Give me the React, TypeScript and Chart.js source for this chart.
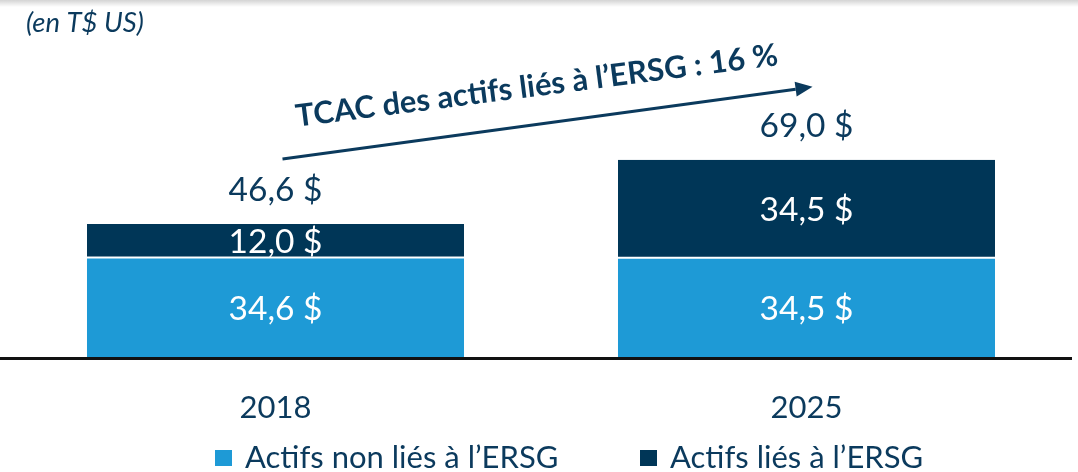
import React, { useEffect, useRef } from 'react';
import { Chart, registerables } from 'chart.js';

Chart.register(...registerables);

// ---- Data ----
const categories = ['2018', '2025'];
const nonEsgAssets = [34.6, 34.5];
const esgAssets = [12.0, 34.5];
const totals = [46.6, 69.0];
const seriesNames = ['Actifs non liés à l’ERSG', 'Actifs liés à l’ERSG'];
const unitNote = '(en T$ US)';
const cagrText = 'TCAC des actifs liés à l’ERSG : 16 %';

// ---- Styles ----
const LIGHT = '#1E9AD6';
const DARK = '#003657';
const TEXT = '#0B3A5D';
const FONT = 'Lato, "Open Sans", sans-serif';

const fmt = (v: number) => v.toFixed(1).replace('.', ',') + ' $';

const overlayPlugin = {
  id: 'overlay',
  beforeDraw(chart: any) {
    const { ctx, width, height } = chart;
    ctx.save();
    ctx.fillStyle = '#ffffff';
    ctx.fillRect(0, 0, width, height);
    const g = ctx.createLinearGradient(0, 0, 0, 7);
    g.addColorStop(0, 'rgba(0,0,0,0.17)');
    g.addColorStop(1, 'rgba(0,0,0,0)');
    ctx.fillStyle = g;
    ctx.fillRect(0, 0, width, 7);
    ctx.restore();
  },
  afterDatasetsDraw(chart: any) {
    const { ctx, chartArea } = chart;
    const xScale = chart.scales.x;
    ctx.save();

    // baseline
    ctx.fillStyle = '#111111';
    ctx.fillRect(0, chartArea.bottom - 0.5, chartArea.right, 3);

    // category labels
    ctx.textAlign = 'center';
    ctx.textBaseline = 'middle';
    ctx.font = `31px ${FONT}`;
    ctx.fillStyle = TEXT;
    chart.data.labels.forEach((lab: string, i: number) => {
      ctx.fillText(lab, xScale.getPixelForValue(i), chartArea.bottom + 50);
    });

    // segment labels
    ctx.font = `33.5px ${FONT}`;
    ctx.fillStyle = '#ffffff';
    chart.data.datasets.forEach((ds: any, di: number) => {
      const meta = chart.getDatasetMeta(di);
      meta.data.forEach((el: any, i: number) => {
        const p = el.getProps(['x', 'y', 'base'], true);
        ctx.fillText(fmt(ds.data[i]), p.x, (p.y + p.base) / 2 + 1);
      });
    });

    // totals
    const topMeta = chart.getDatasetMeta(chart.data.datasets.length - 1);
    ctx.fillStyle = TEXT;
    topMeta.data.forEach((el: any, i: number) => {
      const p = el.getProps(['x', 'y'], true);
      ctx.fillText(fmt(totals[i]), p.x, p.y - 34);
    });

    // CAGR arrow
    const a = topMeta.data[0].getProps(['x', 'y'], true);
    const b = topMeta.data[1].getProps(['x', 'y'], true);
    const x1 = a.x + 7, y1 = a.y - 65;
    const x2 = b.x + 6, y2 = b.y - 73;
    const ang = Math.atan2(y2 - y1, x2 - x1);
    const headLen = 17, headHalf = 7.5;
    ctx.strokeStyle = TEXT;
    ctx.lineWidth = 3;
    ctx.beginPath();
    ctx.moveTo(x1, y1);
    ctx.lineTo(x2 - headLen * Math.cos(ang), y2 - headLen * Math.sin(ang));
    ctx.stroke();
    ctx.fillStyle = TEXT;
    ctx.beginPath();
    ctx.moveTo(x2, y2);
    const bx = x2 - headLen * Math.cos(ang), by = y2 - headLen * Math.sin(ang);
    ctx.lineTo(bx + headHalf * Math.sin(ang), by - headHalf * Math.cos(ang));
    ctx.lineTo(bx - headHalf * Math.sin(ang), by + headHalf * Math.cos(ang));
    ctx.closePath();
    ctx.fill();

    // CAGR text
    const mx = (x1 + x2) / 2 - 9.5, my = (y1 + y2) / 2 - 27;
    ctx.save();
    ctx.translate(mx, my);
    ctx.rotate(-7.3 * Math.PI / 180);
    ctx.font = `bold 31px ${FONT}`;
    ctx.textBaseline = 'alphabetic';
    ctx.textAlign = 'center';
    ctx.fillText(cagrText, 0, 0);
    ctx.restore();

    // unit note
    ctx.font = `italic 27.5px ${FONT}`;
    ctx.textAlign = 'left';
    ctx.textBaseline = 'middle';
    ctx.fillText(unitNote, 26, 23);

    // legend
    const legendX = [215, 640];
    ctx.font = `31px ${FONT}`;
    chart.data.datasets.forEach((ds: any, di: number) => {
      const lx = legendX[di];
      ctx.fillStyle = ds.backgroundColor;
      ctx.fillRect(lx, 450, 17, 16);
      ctx.fillStyle = TEXT;
      ctx.textAlign = 'left';
      ctx.textBaseline = 'middle';
      ctx.fillText(ds.label, lx + 30, 458);
    });

    ctx.restore();
  },
};

export default function App() {
  const ref = useRef<HTMLCanvasElement | null>(null);

  useEffect(() => {
    document.body.style.margin = '0';
    if (!ref.current) return;
    const chart = new Chart(ref.current, {
      type: 'bar',
      data: {
        labels: categories,
        datasets: [
          {
            label: seriesNames[0],
            data: nonEsgAssets,
            backgroundColor: LIGHT,
            borderWidth: 0,
          },
          {
            label: seriesNames[1],
            data: esgAssets,
            backgroundColor: DARK,
            borderColor: '#ffffff',
            borderWidth: { top: 0, left: 0, right: 0, bottom: 2 },
            borderSkipped: false,
          },
        ],
      },
      options: {
        responsive: false,
        animation: false,
        layout: { padding: { top: 157, left: 10, right: 6, bottom: 114.5 } },
        plugins: {
          legend: { display: false },
          tooltip: { enabled: false },
        },
        datasets: { bar: { categoryPercentage: 1, barPercentage: 0.71 } },
        scales: {
          x: {
            stacked: true,
            display: false,
          },
          y: {
            stacked: true,
            display: false,
            min: 0,
            max: 70,
          },
        },
      } as any,
      plugins: [overlayPlugin],
    });
    return () => chart.destroy();
  }, []);

  return (
    <div style={{ width: 1078, height: 472 }}>
      <canvas ref={ref} width={1078} height={472} />
    </div>
  );
}
